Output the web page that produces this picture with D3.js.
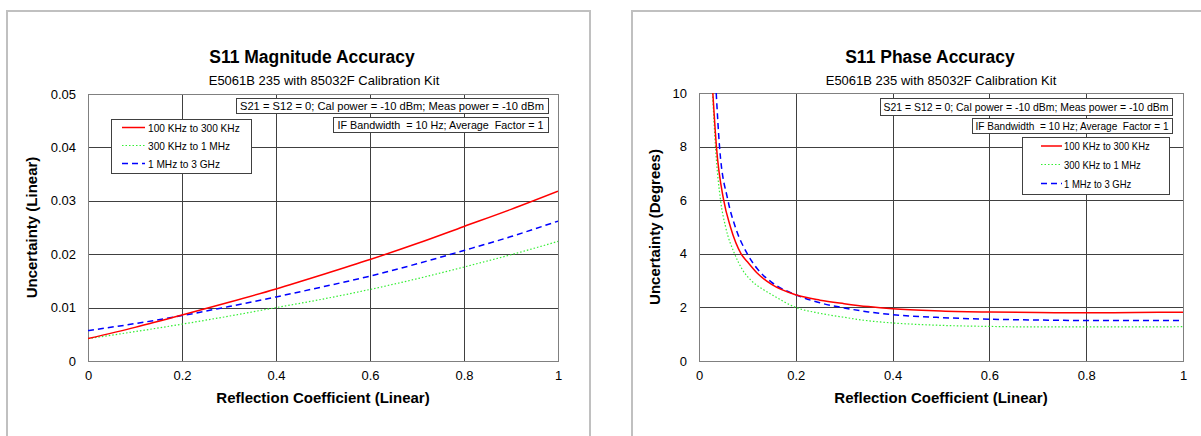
<!DOCTYPE html>
<html><head><meta charset="utf-8">
<script src="https://cdn.jsdelivr.net/npm/d3@7"></script>
<style>
body{margin:0;background:#fff;}
svg text{font-family:"Liberation Sans",Arial,sans-serif;fill:#000;}
</style></head>
<body><svg id="c" width="1201" height="436"></svg>
<script>
// ---------- data ----------
const seriesNames = ["100 KHz to 300 KHz", "300 KHz to 1 MHz", "1 MHz to 3 GHz"];
const xTickLabels = ["0", "0.2", "0.4", "0.6", "0.8", "1"];
const magYTicks = ["0", "0.01", "0.02", "0.03", "0.04", "0.05"];
const phaseYTicks = ["0", "2", "4", "6", "8", "10"];

const magX = [0, 0.1, 0.2, 0.3, 0.4, 0.5, 0.6, 0.7, 0.8, 0.9, 1.0];
const magRed   = [0.0042, 0.0063, 0.0086, 0.0110, 0.0135, 0.0162, 0.0190, 0.0220, 0.0252, 0.0284, 0.0318];
const magGreen = [0.0042, 0.0055, 0.0069, 0.0084, 0.0100, 0.0116, 0.0134, 0.0154, 0.0176, 0.0199, 0.0224];
const magBlue  = [0.0057, 0.0070, 0.0085, 0.0102, 0.0120, 0.0139, 0.0159, 0.0182, 0.0207, 0.0233, 0.0262];

const phRedX   = [0.0286, 0.036, 0.051, 0.065, 0.087, 0.10, 0.12, 0.15, 0.20, 0.25, 0.30, 0.35, 0.40, 0.50, 0.60, 0.70, 0.80, 0.90, 1.0];
const phRed    = [10, 8, 6, 5, 4, 3.7, 3.28, 2.86, 2.47, 2.27, 2.14, 2.03, 1.95, 1.87, 1.83, 1.81, 1.80, 1.81, 1.82];
const phGreenX = [0.028, 0.034, 0.0445, 0.055, 0.0735, 0.09, 0.108, 0.13, 0.15, 0.20, 0.25, 0.30, 0.35, 0.40, 0.50, 0.60, 0.70, 0.80, 0.90, 1.0];
const phGreen  = [10, 8, 6, 5, 4, 3.4, 3, 2.7, 2.48, 2.0, 1.78, 1.63, 1.5, 1.42, 1.33, 1.29, 1.27, 1.27, 1.27, 1.28];
const phBlueX  = [0.0356, 0.0424, 0.0597, 0.075, 0.0998, 0.12, 0.149, 0.20, 0.25, 0.30, 0.35, 0.40, 0.50, 0.60, 0.70, 0.80, 0.90, 1.0];
const phBlue   = [10, 8, 6, 5, 4, 3.45, 2.95, 2.47, 2.17, 1.98, 1.83, 1.73, 1.62, 1.56, 1.53, 1.51, 1.51, 1.51];

const noteLines = ["S21 = S12 = 0; Cal power = -10 dBm; Meas power = -10 dBm",
                   "IF Bandwidth  = 10 Hz; Average  Factor = 1"];

// ---------- styles ----------
const styles = [
  {color:"#ff0000", width:1.5, dash:null},
  {color:"#33ee33", width:1.2, dash:"1.5,2"},
  {color:"#0000ff", width:1.5, dash:"6,4"}
];

const svg = d3.select("#c");

function panel(cfg){
  const g = svg.append("g");
  g.append("rect").attr("x",cfg.px).attr("y",cfg.py).attr("width",cfg.pw).attr("height",cfg.ph)
    .attr("fill","none").attr("stroke","#c0c0c0").attr("stroke-width",2);

  const x = d3.scaleLinear().domain([0,1]).range([cfg.x0,cfg.x1]);
  const y = d3.scaleLinear().domain([0,cfg.ymax]).range([cfg.yb,cfg.yt]);
  const yTickVals = cfg.yTicks.map(Number);
  const xTickVals = xTickLabels.map(Number);

  g.append("g").selectAll("line").data(yTickVals).join("line")
    .attr("x1",cfg.x0).attr("x2",cfg.x1)
    .attr("y1",d=>Math.round(y(d))+0.5).attr("y2",d=>Math.round(y(d))+0.5)
    .attr("stroke","#404040").attr("stroke-width",1);
  g.append("g").selectAll("line").data(xTickVals).join("line")
    .attr("y1",cfg.yt).attr("y2",cfg.yb)
    .attr("x1",d=>Math.round(x(d))+0.5).attr("x2",d=>Math.round(x(d))+0.5)
    .attr("stroke","#404040").attr("stroke-width",1);
  g.append("rect").attr("x",cfg.x0+0.5).attr("y",cfg.yt+0.5)
    .attr("width",cfg.x1-cfg.x0).attr("height",cfg.yb-cfg.yt)
    .attr("fill","none").attr("stroke","#808080").attr("stroke-width",1);

  const ya = d3.axisLeft(y).tickValues(yTickVals).tickFormat((d,i)=>cfg.yTicks[i]).tickSize(0).tickPadding(12);
  const yg = g.append("g").attr("transform",`translate(${cfg.x0},0)`).call(ya);
  yg.select(".domain").remove();
  yg.selectAll("text").attr("font-size",13).attr("font-family","Liberation Sans, Arial, sans-serif");
  const xa = d3.axisBottom(x).tickValues(xTickVals).tickFormat((d,i)=>xTickLabels[i]).tickSize(0).tickPadding(10);
  const xg = g.append("g").attr("transform",`translate(0,${cfg.yb})`).call(xa);
  xg.select(".domain").remove();
  xg.selectAll("text").attr("font-size",13).attr("font-family","Liberation Sans, Arial, sans-serif");

  const clipId = "clip"+cfg.id;
  svg.append("defs").append("clipPath").attr("id",clipId).append("rect")
    .attr("x",cfg.x0).attr("y",cfg.yt).attr("width",cfg.x1-cfg.x0).attr("height",cfg.yb-cfg.yt);
  const line = d3.line().x(d=>x(d[0])).y(d=>y(d[1])).curve(d3.curveMonotoneX);
  [1,2,0].forEach(i=>{
    const s = cfg.series[i];
    const pts = s.x.map((v,k)=>[v,s.y[k]]);
    g.append("path").attr("d",line(pts)).attr("fill","none")
      .attr("stroke",styles[i].color).attr("stroke-width",styles[i].width)
      .attr("stroke-dasharray",styles[i].dash).attr("clip-path",`url(#${clipId})`);
  });

  g.append("text").attr("x",cfg.tx).attr("y",cfg.tyy).attr("text-anchor","middle")
    .attr("font-size",17.5).attr("font-weight","bold").text(cfg.title);
  g.append("text").attr("x",cfg.sx).attr("y",85).attr("text-anchor","middle")
    .attr("font-size",13).text("E5061B 235 with 85032F Calibration Kit");
  g.append("text").attr("x",(cfg.x0+cfg.x1)/2).attr("y",403).attr("text-anchor","middle")
    .attr("font-size",15).attr("font-weight","bold").text("Reflection Coefficient (Linear)");
  g.append("text").attr("transform",`translate(${cfg.ytx},${(cfg.yt+cfg.yb)/2}) rotate(-90)`)
    .attr("text-anchor","middle").attr("font-size",15).attr("font-weight","bold").text(cfg.ytitle);

  cfg.notes.forEach((b,i)=>{
    g.append("rect").attr("x",b[0]+0.5).attr("y",b[1]+0.5).attr("width",b[2]-b[0]).attr("height",b[3]-b[1])
      .attr("fill","#fff").attr("stroke","#404040").attr("stroke-width",1);
    g.append("text").attr("x",(b[0]+b[2])/2).attr("y",(b[1]+b[3])/2+4).attr("text-anchor","middle")
      .attr("font-size",11).attr("textLength",b[4]).attr("lengthAdjust","spacingAndGlyphs")
      .style("white-space","pre").text(noteLines[i]);
  });

  const L = cfg.legend;
  g.append("rect").attr("x",L.x0+0.5).attr("y",L.y0+0.5).attr("width",L.x1-L.x0).attr("height",L.y1-L.y0)
    .attr("fill","#fff").attr("stroke","#404040").attr("stroke-width",1);
  seriesNames.forEach((n,i)=>{
    const yy = L.rows[i];
    g.append("line").attr("x1",L.lx0).attr("x2",L.lx1).attr("y1",yy).attr("y2",yy)
      .attr("stroke",styles[i].color).attr("stroke-width",styles[i].width).attr("stroke-dasharray",styles[i].dash);
    const t = g.append("text").attr("x",L.tx).attr("y",yy+4).attr("font-size",11).text(n);
    const len = t.node().getComputedTextLength();
    t.attr("textLength",len*L.sc).attr("lengthAdjust","spacingAndGlyphs");
  });
}

panel({
  id:"L", px:7, py:11, pw:583, ph:440,
  x0:88, x1:558, yt:94, yb:361, ymax:0.05, yTicks:magYTicks,
  title:"S11 Magnitude Accuracy", tx:312, tyy:63, sx:324,
  ytitle:"Uncertainty (Linear)", ytx:37,
  series:[{x:magX,y:magRed},{x:magX,y:magGreen},{x:magX,y:magBlue}],
  notes:[[236,98,548,113,304],[333,117,548,132,206]],
  legend:{x0:111,y0:119,x1:251,y1:173,lx0:122,lx1:145,tx:148,sc:0.92,rows:[127.5,145.5,163.5]}
});
panel({
  id:"R", px:632, py:11, pw:600, ph:440,
  x0:699, x1:1183, yt:93, yb:361, ymax:10, yTicks:phaseYTicks,
  title:"S11 Phase Accuracy", tx:930, tyy:63, sx:941,
  ytitle:"Uncertainty (Degrees)", ytx:660,
  series:[{x:phRedX,y:phRed},{x:phGreenX,y:phGreen},{x:phBlueX,y:phBlue}],
  notes:[[880,98,1172,115,285],[972,118,1172,133,193]],
  legend:{x0:1022,y0:137,x1:1169,y1:194,lx0:1041,lx1:1062,tx:1064,sc:0.86,rows:[146,164.5,183.5]}
});
</script></body></html>
